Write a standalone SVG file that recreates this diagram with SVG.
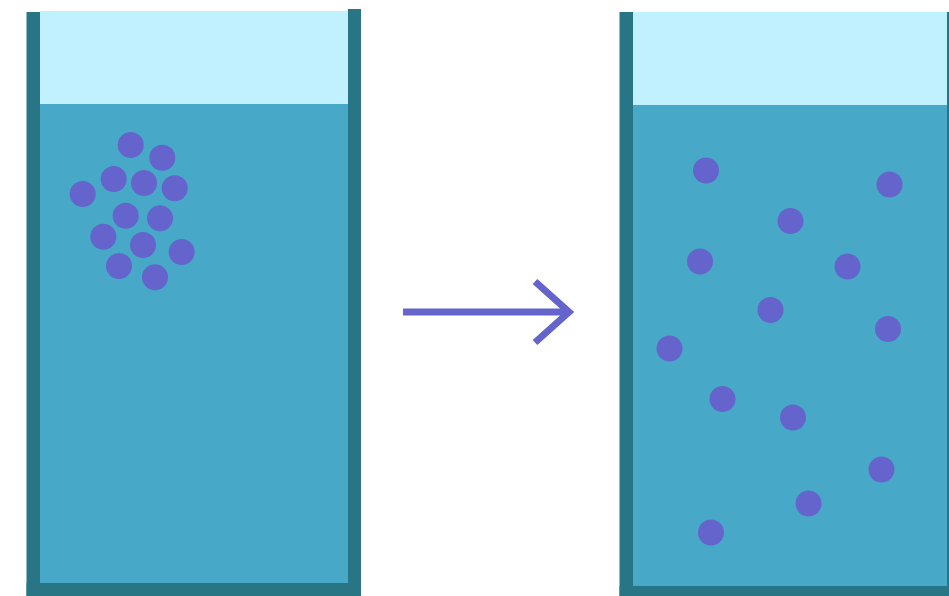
<svg xmlns="http://www.w3.org/2000/svg" width="949" height="596" viewBox="0 0 949 596">
<style>
.wall{fill:#287585}
.air{fill:#c1f1fe}
.water{fill:#47a9c7}
.p{fill:#6464cc}
.arrow{stroke:#6464cc;stroke-width:7;fill:none}
</style>
<rect width="949" height="596" fill="#ffffff"/>
<g id="beaker-left">
<rect class="air" x="40" y="11" width="308" height="93"/>
<rect class="water" x="40" y="104" width="308" height="479"/>
<rect class="wall" x="26.5" y="12" width="13.5" height="584"/>
<rect class="wall" x="348" y="9" width="13" height="587"/>
<rect class="wall" x="26.5" y="583" width="334.5" height="13"/>
<g id="particles-left">
<circle class="p" cx="130.7" cy="145" r="13"/>
<circle class="p" cx="162.3" cy="157.7" r="13"/>
<circle class="p" cx="113.7" cy="179" r="13"/>
<circle class="p" cx="144" cy="183" r="13"/>
<circle class="p" cx="174.7" cy="188.3" r="13"/>
<circle class="p" cx="82.7" cy="194" r="13"/>
<circle class="p" cx="125.7" cy="215.7" r="13"/>
<circle class="p" cx="160" cy="218.3" r="13"/>
<circle class="p" cx="103.3" cy="236.7" r="13"/>
<circle class="p" cx="143" cy="245" r="13"/>
<circle class="p" cx="181.7" cy="252" r="13"/>
<circle class="p" cx="119" cy="266" r="13"/>
<circle class="p" cx="155" cy="277.3" r="13"/>
</g>
</g>
<g id="beaker-right">
<rect class="air" x="633" y="12" width="315" height="93"/>
<rect class="water" x="633" y="105" width="315" height="481"/>
<rect class="wall" x="619.5" y="12" width="13.5" height="584"/>
<rect class="wall" x="947" y="12" width="2" height="584"/>
<rect class="wall" x="619.5" y="586" width="329.5" height="10"/>
<g id="particles-right">
<circle class="p" cx="706" cy="170.5" r="13"/>
<circle class="p" cx="889.5" cy="184.5" r="13"/>
<circle class="p" cx="790.5" cy="221" r="13"/>
<circle class="p" cx="700" cy="261.5" r="13"/>
<circle class="p" cx="847.5" cy="266.5" r="13"/>
<circle class="p" cx="770.5" cy="310" r="13"/>
<circle class="p" cx="888" cy="329" r="13"/>
<circle class="p" cx="669.5" cy="348.5" r="13"/>
<circle class="p" cx="722.5" cy="399" r="13"/>
<circle class="p" cx="793" cy="417.5" r="13"/>
<circle class="p" cx="881.5" cy="469.5" r="13"/>
<circle class="p" cx="808.5" cy="503.5" r="13"/>
<circle class="p" cx="711" cy="532.5" r="13"/>
</g>
</g>
<g id="connectors">
<line class="arrow" x1="403" y1="312" x2="569" y2="312"/>
<polyline class="arrow" points="535,281.5 569,312 535,342.5"/>
</g>
</svg>
